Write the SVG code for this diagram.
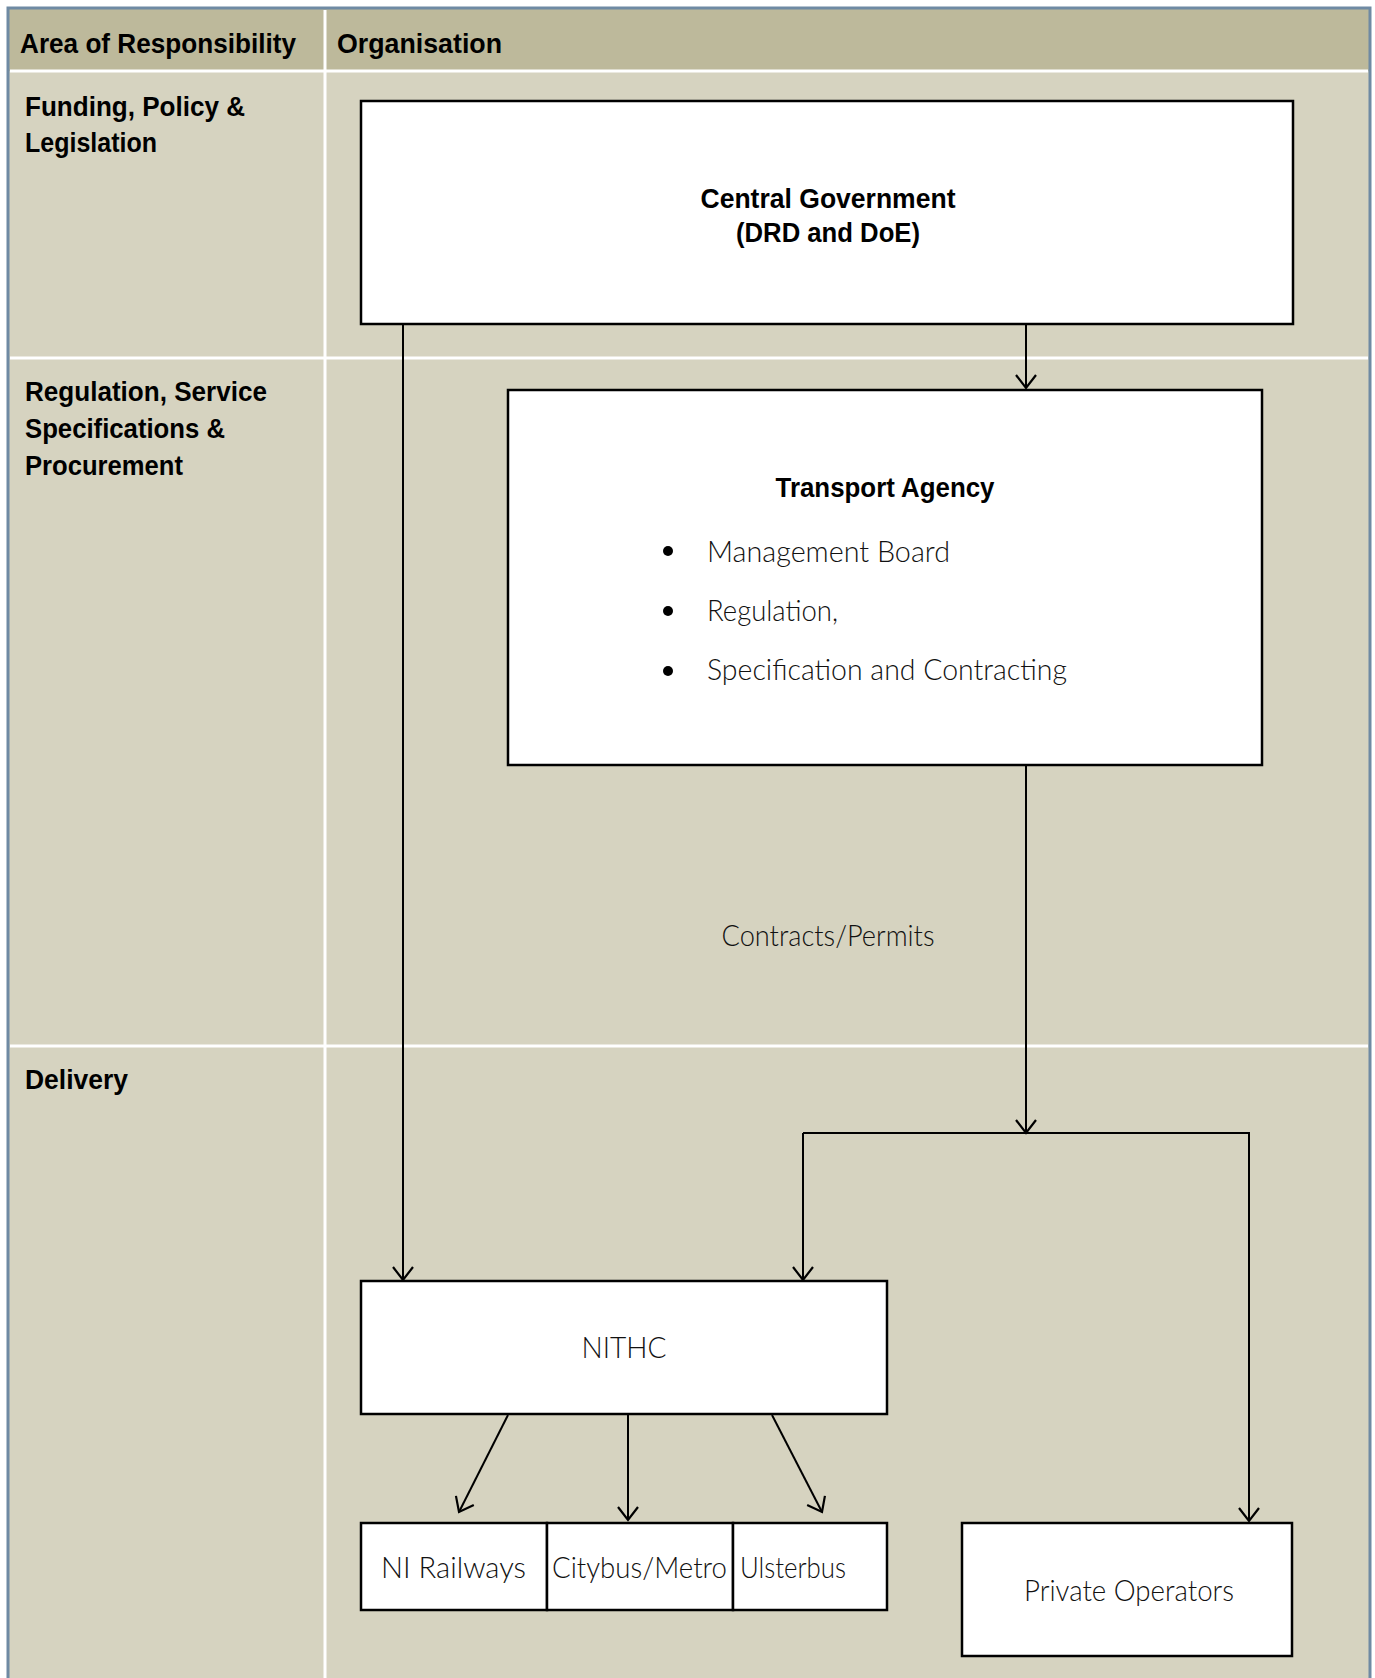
<svg xmlns="http://www.w3.org/2000/svg" width="1375" height="1678" viewBox="0 0 1375 1678">
<defs>
<style>
.bg{fill:#d6d3c0}
.hdr{fill:#bdb99b}
.sep{stroke:#ffffff;stroke-width:3;fill:none}
.box{fill:#ffffff;stroke:#000000;stroke-width:2.5}
.con{stroke:#000000;stroke-width:2;fill:none}
.b{font-family:"Liberation Sans",Arial,sans-serif;font-weight:bold;font-size:27px;fill:#000}
.l{font-family:Lato,"Open Sans","Liberation Sans",sans-serif;font-weight:300;font-size:29px;fill:#111}
</style>
<marker id="arr" viewBox="0 0 24 24" refX="16" refY="12" markerWidth="24" markerHeight="24" markerUnits="userSpaceOnUse" orient="auto">
<path d="M3,2 L16,12 L3,22" fill="none" stroke="#000" stroke-width="2.2"/>
</marker>
</defs>
<rect x="0" y="0" width="1375" height="1678" fill="#ffffff"/>
<rect class="bg" x="8" y="8" width="1362" height="1670"/>
<rect class="hdr" x="8" y="8" width="1362" height="63"/>
<path d="M8,1678 V8 H1370 V1678" fill="none" stroke="#6f8aa3" stroke-width="3"/>
<g id="grid">
<line class="sep" x1="10" y1="71" x2="1368" y2="71"/>
<line class="sep" x1="10" y1="358" x2="1368" y2="358"/>
<line class="sep" x1="10" y1="1046" x2="1368" y2="1046"/>
<line class="sep" x1="325" y1="10" x2="325" y2="1678"/>
</g>
<g id="labels">
<text class="b" x="20" y="53" textLength="276" lengthAdjust="spacingAndGlyphs">Area of Responsibility</text>
<text class="b" x="337" y="53" textLength="165" lengthAdjust="spacingAndGlyphs">Organisation</text>
<text class="b" x="25" y="116" textLength="220" lengthAdjust="spacingAndGlyphs">Funding, Policy &amp;</text>
<text class="b" x="25" y="152" textLength="132" lengthAdjust="spacingAndGlyphs">Legislation</text>
<text class="b" x="25" y="401" textLength="242" lengthAdjust="spacingAndGlyphs">Regulation, Service</text>
<text class="b" x="25" y="438" textLength="200" lengthAdjust="spacingAndGlyphs">Specifications &amp;</text>
<text class="b" x="25" y="475" textLength="158" lengthAdjust="spacingAndGlyphs">Procurement</text>
<text class="b" x="25" y="1089" textLength="103" lengthAdjust="spacingAndGlyphs">Delivery</text>
</g>
<g id="connectors">
<line class="con" x1="403" y1="325" x2="403" y2="1280" marker-end="url(#arr)"/>
<line class="con" x1="1026" y1="325" x2="1026" y2="388" marker-end="url(#arr)"/>
<line class="con" x1="1026" y1="766" x2="1026" y2="1133" marker-end="url(#arr)"/>
<path class="con" d="M803,1133 H1249 V1521" marker-end="url(#arr)"/>
<line class="con" x1="803" y1="1133" x2="803" y2="1280" marker-end="url(#arr)"/>
<line class="con" x1="508" y1="1415" x2="459" y2="1512" marker-end="url(#arr)"/>
<line class="con" x1="628" y1="1415" x2="628" y2="1520" marker-end="url(#arr)"/>
<line class="con" x1="772" y1="1415" x2="822" y2="1512" marker-end="url(#arr)"/>
<text class="l" x="828" y="946" text-anchor="middle" textLength="213" lengthAdjust="spacingAndGlyphs">Contracts/Permits</text>
</g>
<g id="central-government">
<rect class="box" x="361" y="101" width="932" height="223"/>
<text class="b" x="828" y="208" text-anchor="middle" textLength="255" lengthAdjust="spacingAndGlyphs">Central Government</text>
<text class="b" x="828" y="242" text-anchor="middle" textLength="184" lengthAdjust="spacingAndGlyphs">(DRD and DoE)</text>
</g>
<g id="transport-agency">
<rect class="box" x="508" y="390" width="754" height="375"/>
<text class="b" x="885" y="497" text-anchor="middle" textLength="219" lengthAdjust="spacingAndGlyphs">Transport Agency</text>
<circle cx="668" cy="551" r="5"/>
<circle cx="668" cy="611" r="5"/>
<circle cx="668" cy="671" r="5"/>
<text class="l" x="707" y="562" textLength="243" lengthAdjust="spacingAndGlyphs">Management Board</text>
<text class="l" x="707" y="621" textLength="131" lengthAdjust="spacingAndGlyphs">Regulation,</text>
<text class="l" x="707" y="680" textLength="360" lengthAdjust="spacingAndGlyphs">Specification and Contracting</text>
</g>
<g id="nithc">
<rect class="box" x="361" y="1281" width="526" height="133"/>
<text class="l" x="624" y="1358" text-anchor="middle" textLength="85" lengthAdjust="spacingAndGlyphs">NITHC</text>
</g>
<g id="ni-railways">
<rect class="box" x="361" y="1523" width="186" height="87"/>
<text class="l" x="381" y="1578" textLength="145" lengthAdjust="spacingAndGlyphs">NI Railways</text>
</g>
<g id="citybus-metro">
<rect class="box" x="547" y="1523" width="186" height="87"/>
<text class="l" x="552" y="1578" textLength="175" lengthAdjust="spacingAndGlyphs">Citybus/Metro</text>
</g>
<g id="ulsterbus">
<rect class="box" x="733" y="1523" width="154" height="87"/>
<text class="l" x="740" y="1578" textLength="106" lengthAdjust="spacingAndGlyphs">Ulsterbus</text>
</g>
<g id="private-operators">
<rect class="box" x="962" y="1523" width="330" height="133"/>
<text class="l" x="1024" y="1601" textLength="210" lengthAdjust="spacingAndGlyphs">Private Operators</text>
</g>
</svg>
